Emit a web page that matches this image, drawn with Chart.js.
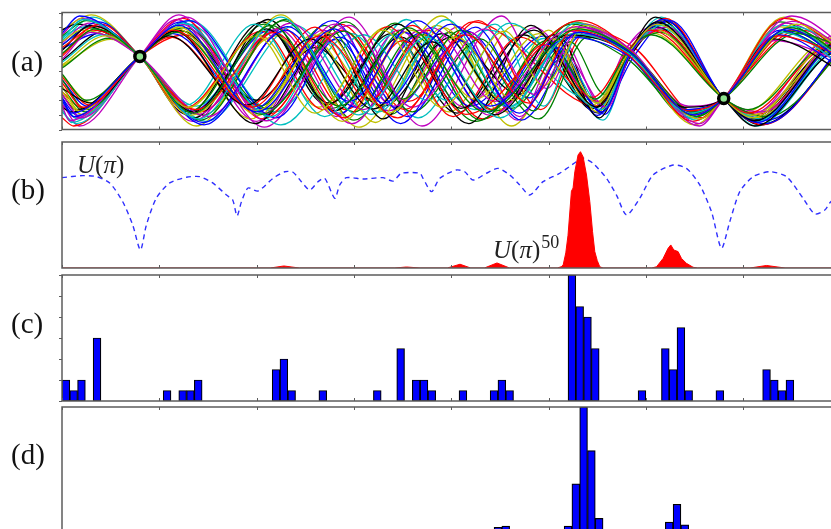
<!DOCTYPE html>
<html>
<head>
<meta charset="utf-8">
<script src="https://cdn.jsdelivr.net/npm/chart.js@4.4.1/dist/chart.umd.min.js"></script>
<style>
html, body { margin: 0; padding: 0; background: #fff; width: 831px; height: 529px; overflow: hidden; }
canvas { position: absolute; left: 0; }
.lbl { position: absolute; left: 11px; font-family: "Liberation Serif", serif; font-size: 29px; line-height: 29px; color: #111; }
.math { position: absolute; font-family: "Liberation Serif", serif; font-size: 25px; line-height: 25px; color: #222; }
.math sup { font-size: 18px; font-style: normal; vertical-align: 10px; line-height: 0; margin-left: 1px; }
</style>
</head>
<body>
<canvas id="panelA" width="850" height="134" style="top:4px"></canvas>
<canvas id="panelB" width="850" height="134" style="top:138px"></canvas>
<canvas id="panelC" width="850" height="134" style="top:271px"></canvas>
<canvas id="panelD" width="850" height="136" style="top:403px"></canvas>

<div class="lbl" style="top:47px">(a)</div>
<div class="lbl" style="top:175px">(b)</div>
<div class="lbl" style="top:309px">(c)</div>
<div class="lbl" style="top:440px">(d)</div>

<div class="math" style="left:77px; top:152px"><i>U</i>(<i>π</i>)</div>
<div class="math" style="left:493px; top:237px"><i>U</i>(<i>π</i>)<sup>50</sup></div>

<script>
// shared axis ticks
const xTicks = [0, 1, 2, 3, 4, 5, 6, 7, 8];
const yTicksA = [-1, -0.75, -0.5, -0.25, 0, 0.25, 0.5, 0.75, 1];
const yTicksC = [0, 2, 4, 6, 8, 10, 12];

const lineColors = ["#0000ff", "#008000", "#ff0000", "#00bfbf", "#bf00bf", "#bfbf00", "#000000"];

// (a) the two points every curve goes through
const knotX = [0.8, 6.8];
const knotY = [0.25, -0.47];

// (a) curves, flat x,y lists read at their turning points
// low before the first knot
const curvesLowFirst = [
    [0,-0.45, 0.10,-0.72, 0.8,0.25, 1.20,0.78, 2.00,-0.70, 2.80,0.72, 3.30,-0.55, 4.00,0.80, 4.70,-0.72, 5.30,0.66, 5.83,0.33, 6.50,-0.75, 6.8,-0.47, 7.45,0.72, 8.1,0.05],
    [0,-0.20, 0.22,-0.62, 0.8,0.25, 1.15,0.70, 1.95,-0.62, 2.65,0.60, 3.45,-0.80, 4.15,0.62, 4.80,-0.55, 5.25,0.70, 5.80,0.30, 6.45,-0.68, 6.8,-0.47, 7.35,0.60, 8.1,0.20],
    [0,-0.60, 0.08,-0.85, 0.8,0.25, 1.28,0.92, 2.10,-0.85, 2.95,0.78, 3.60,-0.62, 4.35,0.72, 4.85,-0.40, 5.35,0.75, 5.85,0.36, 6.55,-0.90, 6.8,-0.47, 7.50,0.85, 8.1,0.30],
    [0,-0.30, 0.30,-0.55, 0.8,0.25, 1.10,0.60, 1.90,-0.58, 2.55,0.55, 3.20,-0.65, 3.80,0.50, 4.45,-0.75, 5.20,0.62, 5.82,0.32, 6.40,-0.62, 6.8,-0.47, 7.30,0.55, 8.1,-0.10],
    [0,-0.05, 0.25,-0.50, 0.8,0.25, 1.18,0.66, 2.05,-0.74, 2.90,0.68, 3.50,-0.48, 4.10,0.70, 4.90,-0.82, 5.40,0.58, 5.86,0.30, 6.50,-0.70, 6.8,-0.47, 7.55,0.64, 8.1,0.35],
    [0,-0.70, 0.15,-0.90, 0.8,0.25, 1.25,0.82, 2.15,-0.78, 2.75,0.48, 3.25,-0.70, 3.95,0.88, 4.60,-0.60, 5.28,0.82, 5.83,0.35, 6.48,-0.80, 6.8,-0.47, 7.40,0.78, 8.1,0.12],
    [0,-0.25, 0.18,-0.68, 0.8,0.25, 1.20,0.75, 2.00,-0.68, 2.70,0.66, 3.35,-0.72, 4.05,0.58, 4.65,-0.50, 5.05,0.55, 5.50,-0.55, 5.83,0.33, 6.12,0.80, 6.8,-0.47, 7.10,-0.80, 7.95,0.58, 8.1,0.56],
    [0,-0.50, 0.12,-0.78, 0.8,0.25, 1.30,0.86, 2.20,-0.80, 2.85,0.58, 3.55,-0.78, 4.25,0.75, 4.75,-0.30, 5.10,0.40, 5.55,-0.70, 5.84,0.30, 6.18,0.88, 6.8,-0.47, 7.15,-0.88, 8.00,0.48, 8.1,0.47],
    [0,-0.10, 0.28,-0.58, 0.8,0.25, 1.12,0.58, 1.92,-0.60, 2.60,0.75, 3.15,-0.50, 3.75,0.70, 4.40,-0.66, 4.95,0.45, 5.45,-0.45, 5.82,0.36, 6.05,0.70, 6.8,-0.47, 7.05,-0.72, 7.90,0.42, 8.1,0.40],
    [0,-0.40, 0.20,-0.80, 0.8,0.25, 1.22,0.80, 2.08,-0.72, 2.80,0.80, 3.40,-0.60, 4.20,0.66, 4.70,-0.78, 5.15,0.30, 5.60,-0.62, 5.85,0.32, 6.22,0.75, 6.8,-0.47, 7.20,-0.70, 8.05,0.66, 8.1,0.66],
    [0,-0.62, 0.10,-0.70, 0.8,0.25, 1.16,0.68, 1.98,-0.90, 2.75,0.62, 3.30,-0.82, 3.90,0.64, 4.55,-0.55, 5.05,0.62, 5.52,-0.80, 5.83,0.30, 6.10,0.92, 6.8,-0.47, 7.12,-0.94, 8.00,0.35, 8.1,0.34],
    [0,-0.15, 0.25,-0.66, 0.8,0.25, 1.26,0.74, 2.12,-0.64, 2.92,0.84, 3.60,-0.70, 4.30,0.55, 4.85,-0.68, 5.22,0.50, 5.58,-0.40, 5.84,0.34, 6.15,0.66, 6.8,-0.47, 7.25,-0.78, 8.1,0.50],
    [0,-0.52, 0.16,-0.82, 0.8,0.25, 1.32,0.86, 2.25,-0.92, 3.10,0.62, 3.75,-0.50, 4.45,0.80, 4.95,-0.60, 5.34,0.70, 5.84,0.32, 6.52,-0.84, 6.8,-0.47, 7.52,0.76, 8.1,0.28],
    [0,-0.35, 0.20,-0.74, 0.8,0.25, 1.18,0.72, 2.02,-0.76, 2.62,0.50, 3.22,-0.88, 3.85,0.78, 4.50,-0.46, 5.00,0.70, 5.50,-0.70, 5.83,0.33, 6.16,0.86, 6.8,-0.47, 7.14,-0.80, 8.02,0.62, 8.1,0.62],
    [0,-0.15, 0.26,-0.60, 0.8,0.25, 1.14,0.64, 1.96,-0.66, 2.78,0.86, 3.42,-0.62, 4.10,0.52, 4.72,-0.84, 5.36,0.62, 5.85,0.30, 6.48,-0.70, 6.8,-0.47, 7.38,0.70, 8.1,0.00],
    [0,-0.80, 0.12,-0.94, 0.8,0.25, 1.24,0.90, 2.06,-0.82, 2.88,0.70, 3.52,-0.66, 4.22,0.84, 5.50,-0.60, 5.83,0.32, 6.20,0.90, 6.8,-0.47, 7.20,-0.92, 8.1,0.55],
    [0,-0.55, 0.18,-0.94, 0.8,0.25, 1.20,0.96, 2.08,-0.96, 2.95,0.92, 3.70,-0.94, 4.52,0.94, 4.98,-0.30, 5.36,0.80, 5.84,0.34, 6.55,-0.94, 6.8,-0.47, 7.50,0.94, 8.1,0.35],
    [0,-0.40, 0.14,-0.66, 0.8,0.25, 1.20,0.70, 2.00,-0.50, 2.60,0.40, 3.30,-0.60, 4.00,0.58, 4.70,-0.40, 5.10,0.60, 5.52,-0.68, 5.83,0.33, 6.12,0.82, 6.8,-0.47, 7.08,-0.82, 7.92,0.40, 8.1,0.38],
    [0,-0.28, 0.24,-0.70, 0.8,0.25, 1.24,0.68, 2.04,-0.60, 2.70,0.78, 3.38,-0.74, 3.98,0.66, 4.62,-0.64, 5.26,0.60, 5.80,0.22, 6.46,-0.74, 6.8,-0.47, 7.42,0.66, 8.1,0.08],
    [0,-0.66, 0.10,-0.88, 0.8,0.25, 1.30,0.80, 2.18,-0.70, 2.98,0.64, 3.66,-0.80, 4.38,0.70, 5.46,-0.50, 5.86,0.44, 6.18,0.72, 6.8,-0.47, 7.18,-0.78, 8.06,0.50, 8.1,0.50],
    [0,-0.08, 0.30,-0.54, 0.8,0.25, 1.14,0.72, 1.94,-0.82, 2.58,0.62, 3.28,-0.58, 3.92,0.74, 4.58,-0.70, 5.22,0.74, 5.78,0.40, 6.42,-0.66, 6.8,-0.47, 7.36,0.76, 8.1,0.14],
    [0,-0.46, 0.16,-0.76, 0.8,0.25, 1.22,0.84, 2.10,-0.66, 2.82,0.54, 3.48,-0.90, 4.16,0.68, 4.80,-0.46, 5.12,0.20, 5.50,-0.76, 5.88,0.26, 6.22,0.84, 6.8,-0.47, 7.24,-0.84, 8.1,0.58],
    [0,-0.36, 0.22,-0.64, 0.8,0.25, 1.26,0.62, 2.12,-0.74, 2.86,0.80, 3.56,-0.52, 4.28,0.86, 4.92,-0.66, 5.40,0.70, 5.88,0.40, 6.58,-0.80, 6.8,-0.47, 7.58,0.70, 8.1,0.40],
    [0,-0.58, 0.14,-0.80, 0.8,0.25, 1.18,0.88, 2.00,-0.86, 2.68,0.70, 3.36,-0.68, 4.08,0.76, 4.68,-0.84, 5.14,0.52, 5.56,-0.62, 5.80,0.38, 6.08,0.76, 6.8,-0.47, 7.06,-0.78, 7.94,0.60, 8.1,0.58]
];
// high before the first knot
const curvesHighFirst = [
    [0,0.30, 0.35,0.72, 0.8,0.25, 1.35,-0.72, 2.15,0.78, 2.85,-0.60, 3.55,0.74, 4.35,-0.70, 5.30,0.72, 5.83,0.34, 6.52,-0.78, 6.8,-0.47, 7.48,0.74, 8.1,0.15],
    [0,0.55, 0.22,0.88, 0.8,0.25, 1.40,-0.82, 2.25,0.92, 3.05,-0.75, 3.75,0.58, 4.50,-0.80, 5.25,0.64, 5.82,0.31, 6.45,-0.72, 6.8,-0.47, 7.40,0.66, 8.1,0.00],
    [0,0.10, 0.45,0.60, 0.8,0.25, 1.30,-0.62, 2.00,0.60, 2.60,-0.72, 3.30,0.70, 3.90,-0.62, 4.55,0.68, 4.95,-0.25, 5.38,0.78, 5.86,0.30, 6.55,-0.82, 6.8,-0.47, 7.55,0.80, 8.1,0.25],
    [0,0.65, 0.18,0.94, 0.8,0.25, 1.45,-0.88, 2.30,0.70, 2.95,-0.52, 3.65,0.86, 4.40,-0.60, 5.22,0.58, 5.80,0.28, 6.42,-0.66, 6.8,-0.47, 7.35,0.62, 8.1,-0.05],
    [0,0.40, 0.40,0.80, 0.8,0.25, 1.38,-0.66, 2.18,0.66, 2.90,-0.80, 3.50,0.52, 4.15,-0.74, 5.32,0.86, 5.84,0.36, 6.48,-0.86, 6.8,-0.47, 7.42,0.90, 8.1,0.22],
    [0,0.20, 0.30,0.66, 0.8,0.25, 1.50,-0.78, 2.35,0.82, 3.10,-0.66, 3.80,0.74, 4.45,-0.52, 5.18,0.68, 5.82,0.33, 6.44,-0.60, 6.8,-0.47, 7.32,0.52, 8.1,0.10],
    [0,0.35, 0.30,0.78, 0.8,0.25, 1.35,-0.70, 2.10,0.72, 2.75,-0.55, 3.45,0.80, 4.10,-0.64, 4.85,0.70, 5.50,-0.62, 5.83,0.33, 6.12,0.84, 6.8,-0.47, 7.12,-0.85, 8.02,0.52, 8.1,0.52],
    [0,0.60, 0.25,0.86, 0.8,0.25, 1.42,-0.84, 2.28,0.86, 3.00,-0.70, 3.62,0.60, 4.30,-0.84, 4.98,0.52, 5.48,-0.48, 5.82,0.34, 6.05,0.62, 6.8,-0.47, 7.05,-0.66, 7.90,0.45, 8.1,0.42],
    [0,0.15, 0.42,0.62, 0.8,0.25, 1.28,-0.58, 1.98,0.80, 2.70,-0.78, 3.40,0.62, 3.95,-0.50, 4.60,0.82, 5.55,-0.66, 5.84,0.32, 6.20,0.80, 6.8,-0.47, 7.18,-0.82, 8.05,0.60, 8.1,0.60],
    [0,0.50, 0.20,0.70, 0.8,0.25, 1.32,-0.76, 2.20,0.60, 2.88,-0.86, 3.58,0.70, 4.25,-0.48, 4.90,0.64, 5.45,-0.58, 5.83,0.30, 6.08,0.72, 6.8,-0.47, 7.08,-0.76, 7.95,0.38, 8.1,0.37],
    [0,0.45, 0.38,0.84, 0.8,0.25, 1.46,-0.92, 2.32,0.76, 3.02,-0.62, 3.70,0.66, 4.38,-0.70, 5.00,0.46, 5.58,-0.74, 5.85,0.35, 6.25,0.86, 6.8,-0.47, 7.22,-0.90, 8.1,0.62],
    [0,0.25, 0.32,0.70, 0.8,0.25, 1.25,-0.64, 2.05,0.68, 2.68,-0.66, 3.35,0.76, 4.02,-0.78, 4.70,0.58, 5.52,-0.52, 5.83,0.31, 6.15,0.70, 6.8,-0.47, 7.15,-0.74, 8.00,0.44, 8.1,0.44],
    [0,0.48, 0.28,0.82, 0.8,0.25, 1.40,-0.74, 2.22,0.72, 2.98,-0.90, 3.68,0.70, 4.40,-0.76, 5.28,0.76, 5.83,0.35, 6.46,-0.76, 6.8,-0.47, 7.44,0.82, 8.1,0.20],
    [0,0.70, 0.15,0.80, 0.8,0.25, 1.36,-0.80, 2.12,0.88, 2.80,-0.68, 3.48,0.58, 4.18,-0.90, 4.82,0.78, 5.46,-0.64, 5.84,0.30, 6.10,0.76, 6.8,-0.47, 7.10,-0.84, 7.98,0.50, 8.1,0.50],
    [0,0.05, 0.48,0.56, 0.8,0.25, 1.30,-0.70, 2.08,0.80, 2.78,-0.64, 3.42,0.82, 4.25,-0.86, 5.24,0.80, 5.82,0.32, 6.50,-0.72, 6.8,-0.47, 7.46,0.68, 8.1,0.18],
    [0,0.58, 0.24,0.76, 0.8,0.25, 1.48,-0.86, 2.40,0.78, 3.18,-0.74, 3.90,0.64, 4.60,-0.62, 5.10,0.36, 5.55,-0.58, 5.84,0.34, 6.14,0.78, 6.8,-0.47, 7.16,-0.86, 8.04,0.54, 8.1,0.54],
    [0,0.70, 0.30,0.96, 0.8,0.25, 1.38,-0.94, 2.25,0.96, 3.05,-0.96, 3.90,0.94, 4.62,-0.94, 5.32,0.82, 5.84,0.33, 6.50,-0.92, 6.8,-0.47, 7.42,0.92, 8.1,0.05],
    [0,0.38, 0.36,0.64, 0.8,0.25, 1.34,-0.68, 2.14,0.70, 2.84,-0.74, 3.52,0.66, 4.20,-0.60, 4.95,0.60, 5.48,-0.70, 5.83,0.30, 6.12,0.84, 6.8,-0.47, 7.12,-0.86, 8.00,0.46, 8.1,0.46],
    [0,0.28, 0.34,0.76, 0.8,0.25, 1.42,-0.70, 2.26,0.74, 2.92,-0.66, 3.60,0.78, 4.32,-0.82, 5.34,0.68, 5.86,0.28, 6.52,-0.70, 6.8,-0.47, 7.50,0.70, 8.1,0.10],
    [0,0.62, 0.20,0.90, 0.8,0.25, 1.34,-0.86, 2.16,0.66, 2.82,-0.78, 3.46,0.70, 4.14,-0.62, 4.86,0.74, 5.50,-0.54, 5.80,0.40, 6.10,0.70, 6.8,-0.47, 7.10,-0.72, 7.96,0.46, 8.1,0.45],
    [0,0.18, 0.44,0.68, 0.8,0.25, 1.28,-0.74, 2.06,0.84, 2.72,-0.58, 3.38,0.64, 4.06,-0.72, 4.74,0.62, 5.52,-0.72, 5.86,0.30, 6.20,0.86, 6.8,-0.47, 7.18,-0.92, 8.1,0.56],
    [0,0.44, 0.26,0.74, 0.8,0.25, 1.44,-0.76, 2.30,0.88, 3.00,-0.84, 3.72,0.62, 4.46,-0.68, 5.26,0.84, 5.84,0.24, 6.44,-0.80, 6.8,-0.47, 7.38,0.84, 8.1,0.02],
    [0,0.52, 0.32,0.92, 0.8,0.25, 1.38,-0.60, 2.12,0.70, 2.86,-0.72, 3.54,0.88, 4.24,-0.66, 4.96,0.56, 5.56,-0.84, 5.84,0.28, 6.16,0.92, 6.8,-0.47, 7.14,-0.94, 8.02,0.40, 8.1,0.40],
    [0,0.08, 0.50,0.54, 0.8,0.25, 1.26,-0.66, 2.02,0.62, 2.64,-0.62, 3.32,0.74, 3.98,-0.70, 4.66,0.78, 5.48,-0.60, 5.82,0.36, 6.04,0.66, 6.8,-0.47, 7.02,-0.70, 7.88,0.52, 8.1,0.50]
];

// (b) U(pi), dashed blue
const uPiX = [0, 0.213, 0.354, 0.490, 0.624, 0.727, 0.806, 0.867, 0.970, 1.107, 1.279, 1.415, 1.549, 1.690, 1.754, 1.799, 1.844, 1.912, 2.014, 2.169, 2.289, 2.374, 2.460, 2.546, 2.631, 2.700, 2.803, 2.854, 2.923, 3.094, 3.299, 3.402, 3.488, 3.676, 3.710, 3.797, 3.882, 4.053, 4.139, 4.224, 4.362, 4.481, 4.601, 4.704, 4.807, 4.944, 5.115, 5.287, 5.355, 5.457, 5.595, 5.698, 5.801, 5.937, 6.074, 6.280, 6.417, 6.554, 6.674, 6.777, 6.862, 6.965, 7.102, 7.273, 7.445, 7.616, 7.736, 7.839, 7.900, 8.0];
const uPiY = [0.717, 0.733, 0.725, 0.675, 0.526, 0.341, 0.143, 0.341, 0.556, 0.675, 0.720, 0.725, 0.675, 0.579, 0.540, 0.413, 0.526, 0.635, 0.611, 0.712, 0.764, 0.760, 0.685, 0.619, 0.685, 0.712, 0.553, 0.659, 0.717, 0.706, 0.717, 0.690, 0.752, 0.752, 0.712, 0.606, 0.712, 0.778, 0.764, 0.698, 0.752, 0.791, 0.738, 0.659, 0.579, 0.685, 0.752, 0.844, 0.871, 0.831, 0.712, 0.579, 0.421, 0.553, 0.738, 0.817, 0.791, 0.659, 0.447, 0.156, 0.367, 0.606, 0.725, 0.764, 0.725, 0.553, 0.429, 0.460, 0.526, 0.580];

// (b) U(pi)^50, red fill
const uPi50X = [0, 2.14, 2.28, 2.44, 3.42, 3.54, 3.68, 3.96, 4.09, 4.20, 4.34, 4.47, 4.60, 5.09, 5.13, 5.15, 5.177, 5.20, 5.235, 5.252, 5.27, 5.303, 5.328, 5.355, 5.39, 5.424, 5.452, 5.475, 5.50, 5.526, 5.56, 6.06, 6.11, 6.177, 6.228, 6.256, 6.287, 6.331, 6.366, 6.417, 6.485, 6.53, 7.07, 7.24, 7.43, 8.0];
const uPi50Y = [0, 0, 0.016, 0, 0, 0.008, 0, 0, 0.03, 0, 0, 0.04, 0, 0, 0.01, 0.024, 0.12, 0.26, 0.61, 0.635, 0.764, 0.897, 0.923, 0.883, 0.738, 0.526, 0.288, 0.13, 0.06, 0.01, 0, 0, 0.01, 0.076, 0.156, 0.183, 0.143, 0.13, 0.076, 0.037, 0.006, 0, 0, 0.02, 0, 0];

// (c) and (d) histograms, 100 bins over the axis
const binWidth = 0.08;
const binsC = [0, 1, 2, 4, 13, 15, 16, 17, 27, 28, 29, 33, 40, 43, 45, 46, 47, 51, 55, 56, 57, 65, 66, 67, 68, 74, 77, 78, 79, 80, 84, 90, 91, 92, 93];
const countsC = [2, 1, 2, 6, 1, 1, 1, 2, 3, 4, 1, 1, 1, 5, 2, 2, 1, 1, 1, 2, 1, 12, 9, 8, 5, 1, 5, 3, 7, 1, 1, 3, 2, 1, 2];
const binsD = [56, 57, 65, 66, 67, 68, 69, 78, 79, 80];
const countsD = [6, 7, 7, 40, 100, 66, 13, 10, 24, 8];

const axisBox = {
    id: "axisBox",
    afterDraw(chart, args, opts) {
        const { ctx, chartArea: a, scales } = chart;
        ctx.save();
        ctx.strokeStyle = "#5c5c5c";
        ctx.lineWidth = 1.5;
        ctx.strokeRect(a.left, a.top, a.right - a.left, a.bottom - a.top);
        ctx.lineWidth = 1;
        ctx.beginPath();
        xTicks.forEach(v => {
            const px = Math.round(scales.x.getPixelForValue(v)) + 0.5;
            ctx.moveTo(px, a.top); ctx.lineTo(px, a.top + 3);
            ctx.moveTo(px, a.bottom); ctx.lineTo(px, a.bottom - 3);
        });
        (opts.yTicks || []).forEach(v => {
            const py = Math.round(scales.y.getPixelForValue(v)) + 0.5;
            ctx.moveTo(a.left - 3, py); ctx.lineTo(a.left, py);
        });
        ctx.stroke();
        ctx.restore();
    }
};

function panelOptions(yMin, yMax, yTicks) {
    return {
        responsive: false,
        animation: false,
        events: [],
        layout: { padding: { left: 62, right: 9.5, top: 4, bottom: 4 } },
        plugins: {
            legend: { display: false },
            tooltip: { enabled: false },
            axisBox: { yTicks: yTicks }
        },
        scales: {
            x: { type: "linear", min: 0, max: 8, offset: false, display: false },
            y: { type: "linear", min: yMin, max: yMax, display: false }
        }
    };
}

function toPoints(flat) {
    const pts = [];
    for (let i = 0; i < flat.length; i += 2) pts.push({ x: flat[i], y: flat[i + 1] });
    return pts;
}

// (a)
const curveSets = [];
for (let i = 0; i < curvesLowFirst.length; i++) {
    curveSets.push(curvesLowFirst[i]);
    curveSets.push(curvesHighFirst[i]);
}
const curveDatasets = curveSets.map((c, i) => ({
    data: toPoints(c),
    showLine: true,
    borderColor: lineColors[i % lineColors.length],
    borderWidth: 1.3,
    pointRadius: 0,
    cubicInterpolationMode: "monotone",
    order: 1
}));

new Chart(document.getElementById("panelA"), {
    type: "scatter",
    data: {
        datasets: [{
            data: knotX.map((x, i) => ({ x: x, y: knotY[i] })),
            pointRadius: 5,
            pointBackgroundColor: "#8fe38f",
            pointBorderColor: "#000000",
            pointBorderWidth: 3.5,
            order: 0
        }].concat(curveDatasets)
    },
    options: panelOptions(-1, 1, yTicksA),
    plugins: [axisBox]
});

// (b)
new Chart(document.getElementById("panelB"), {
    type: "scatter",
    data: {
        datasets: [{
            data: uPi50X.map((x, i) => ({ x: x, y: uPi50Y[i] })),
            showLine: true,
            fill: "origin",
            backgroundColor: "#ff0000",
            borderColor: "#ff0000",
            borderWidth: 1,
            pointRadius: 0,
            tension: 0,
            order: 0
        }, {
            data: uPiX.map((x, i) => ({ x: x, y: uPiY[i] })),
            showLine: true,
            borderColor: "#2f2fff",
            borderWidth: 1.4,
            borderDash: [5, 4],
            pointRadius: 0,
            tension: 0.25,
            order: 1
        }]
    },
    options: panelOptions(0, 1, []),
    plugins: [axisBox]
});

// (c), (d)
function histDataset(bins, counts, shift) {
    return {
        data: bins.map((b, i) => ({ x: (b + shift) * binWidth, y: counts[i] })),
        backgroundColor: "#0000ff",
        borderColor: "#000000",
        borderWidth: 1.2,
        borderSkipped: false,
        barPercentage: 1,
        categoryPercentage: 1
    };
}

new Chart(document.getElementById("panelC"), {
    type: "bar",
    data: { datasets: [histDataset(binsC, countsC, 0.5)] },
    options: panelOptions(0, 12, yTicksC),
    plugins: [axisBox]
});

new Chart(document.getElementById("panelD"), {
    type: "bar",
    data: { datasets: [histDataset(binsD, countsD, 0)] },
    options: panelOptions(0, 100, []),
    plugins: [axisBox]
});
</script>
</body>
</html>
